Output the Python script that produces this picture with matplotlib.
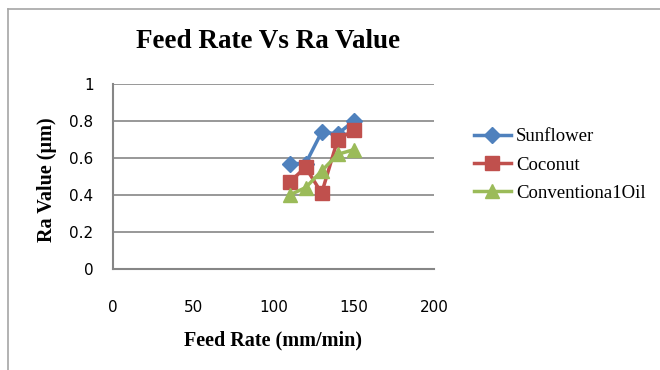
import matplotlib.pyplot as plt
from matplotlib.lines import Line2D

# Data
feed_rate = [110, 120, 130, 140, 150]
sunflower = [0.57, 0.57, 0.74, 0.73, 0.80]
coconut = [0.47, 0.55, 0.41, 0.70, 0.75]
conventional = [0.40, 0.44, 0.53, 0.62, 0.645]
series_names = ['Sunflower', 'Coconut', 'Conventiona1Oil']

x_ticks = [0, 50, 100, 150, 200]
y_ticks = [0, 0.2, 0.4, 0.6, 0.8, 1]

blue = '#4F81BD'
red = '#C0504D'
green = '#9BBB59'
grid_col = '#868686'

fig = plt.figure(figsize=(6.6, 3.7), dpi=100)
ax = fig.add_axes([113 / 660, 1 - 269 / 370, 321 / 660, 185 / 370])

ax.plot(feed_rate, sunflower, color=blue, lw=2.5, marker='D', ms=8, label=series_names[0])
ax.plot(feed_rate, coconut, color=red, lw=2.5, marker='s', ms=9.5, label=series_names[1])
ax.plot(feed_rate, conventional, color=green, lw=2.5, marker='^', ms=10, label=series_names[2])

ax.set_xlim(0, 200)
ax.set_ylim(0, 1)
ax.set_xticks(x_ticks)
ax.set_yticks(y_ticks)
ax.set_xticklabels([str(v) for v in x_ticks])
ax.set_yticklabels(['0', '0.2', '0.4', '0.6', '0.8', '1'])
ax.tick_params(length=0, labelsize=11, colors='black')
ax.tick_params(axis='x', pad=22)
ax.tick_params(axis='y', pad=14)
ax.grid(axis='y', color=grid_col, lw=1.2)
ax.set_axisbelow(True)
for s in ['top', 'right']:
    ax.spines[s].set_visible(False)
for s in ['left', 'bottom']:
    ax.spines[s].set_color(grid_col)
    ax.spines[s].set_linewidth(1.5)

serif = 'Liberation Serif'
fig.text(268 / 660, 1 - 42 / 370, 'Feed Rate Vs Ra Value', family=serif,
         fontweight='bold', fontsize=19.5, ha='center', va='center')
fig.text(273 / 660, 1 - 340 / 370, 'Feed Rate (mm/min)', family=serif,
         fontweight='bold', fontsize=14.5, ha='center', va='center')
fig.text(47 / 660, 1 - 180 / 370, 'Ra Value (µm)', family=serif,
         fontweight='bold', fontsize=14.5, ha='center', va='center', rotation=90)

leg = fig.legend(loc='center left', bbox_to_anchor=(474 / 660, 1 - 165 / 370),
                 frameon=False, prop={'family': serif, 'size': 13.5},
                 borderpad=0, borderaxespad=0,
                 handlelength=1.95, handletextpad=0.3, labelspacing=0.6)

# outer chart frame
fig.add_artist(Line2D([8 / 660, 8 / 660], [0, 1 - 9 / 370], color='#A6A6A6', lw=1.2))
fig.add_artist(Line2D([8 / 660, 1], [1 - 9 / 370, 1 - 9 / 370], color='#A6A6A6', lw=1.2))

fig.savefig('out.png', dpi=100)
